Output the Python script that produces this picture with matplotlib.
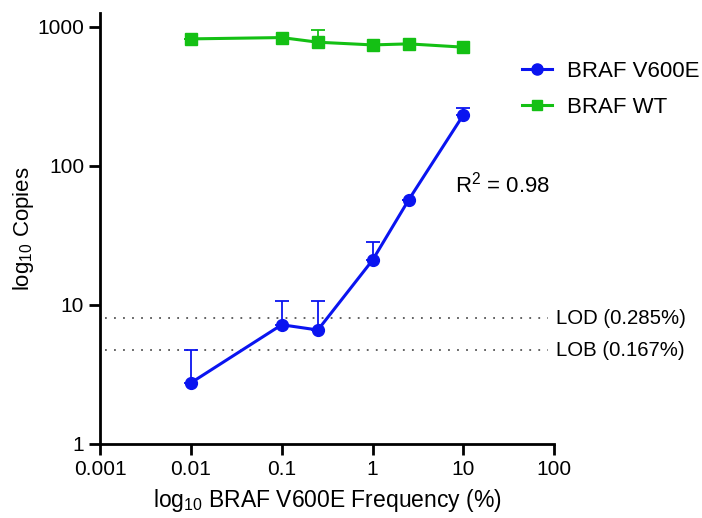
import numpy as np
import matplotlib
matplotlib.use('Agg')
import matplotlib.pyplot as plt
from matplotlib.lines import Line2D

plt.rcParams['font.family'] = ['Liberation Sans', 'DejaVu Sans']
plt.rcParams['mathtext.fontset'] = 'custom'
plt.rcParams['mathtext.rm'] = 'Liberation Sans'
plt.rcParams['mathtext.default'] = 'regular'

# frecuencias (%)
freq = [0.01, 0.1, 0.25, 1, 2.5, 10]

# BRAF V600E (copias) y error superior
v600e = [2.75, 7.2, 6.6, 21, 57, 233]
v600e_err = [2.0, 3.5, 4.1, 7.4, 0, 28]

# BRAF WT
wt = [820, 838, 776, 742, 755, 715]
wt_err = [0, 0, 175, 0, 0, 0]

lod = 8.0
lob = 4.7
lod_label = 'LOD (0.285%)'
lob_label = 'LOB (0.167%)'

blue = '#0a14f0'
green = '#14c014'

fig = plt.figure(figsize=(7.02, 5.18), dpi=100)
ax = fig.add_axes([0.1425, 0.143, 0.647, 0.832])

ax.set_xscale('log')
ax.set_yscale('log')
ax.set_xlim(0.001, 100)
ax.set_ylim(1, 1260)

# lineas LOD / LOB
ax.plot([0.00112, 85], [lod, lod], ls=(0, (1, 4)), color='#555555', lw=1.3, clip_on=False)
ax.plot([0.00112, 85], [lob, lob], ls=(0, (1, 4)), color='#555555', lw=1.3, clip_on=False)
ax.text(105, lod, lod_label, va='center', ha='left', fontsize=14.7)
ax.text(105, lob, lob_label, va='center', ha='left', fontsize=14.7)

ax.errorbar(freq, wt, yerr=[np.zeros(len(wt)), wt_err], color=green, lw=2.2,
            marker='s', ms=8, capsize=5, elinewidth=1.3, capthick=1.3, clip_on=False)
ax.errorbar(freq, v600e, yerr=[np.zeros(len(v600e)), v600e_err], color=blue, lw=2.2,
            marker='o', ms=8.5, capsize=5, elinewidth=1.3, capthick=1.3, clip_on=False)

ax.text(8.0, 73, 'R$^2$ = 0.98', fontsize=16, ha='left', va='center')

for s in ['top', 'right']:
    ax.spines[s].set_visible(False)
for s in ['left', 'bottom']:
    ax.spines[s].set_linewidth(2)
ax.tick_params(which='major', length=8, width=2, labelsize=15, direction='out')
ax.tick_params(which='minor', length=0)
ax.set_xticks([0.001, 0.01, 0.1, 1, 10, 100])
ax.set_xticklabels(['0.001', '0.01', '0.1', '1', '10', '100'])
ax.set_yticks([1, 10, 100, 1000])
ax.set_yticklabels(['1', '10', '100', '1000'])

ax.set_xlabel('log$_{10}$ BRAF V600E Frequency (%)', fontsize=16.5, labelpad=6)
ax.set_ylabel('log$_{10}$ Copies', fontsize=16, labelpad=1)

handles = [Line2D([], [], color=blue, lw=2.2, marker='o', ms=8),
           Line2D([], [], color=green, lw=2.2, marker='s', ms=7)]
fig.legend(handles, ['BRAF V600E', 'BRAF WT'], loc='upper left',
           bbox_to_anchor=(0.743, 0.883), frameon=False, fontsize=16,
           handlelength=1.35, handletextpad=0.7, labelspacing=0.7, borderpad=0,
           borderaxespad=0)

fig.savefig('out.png', dpi=100)
